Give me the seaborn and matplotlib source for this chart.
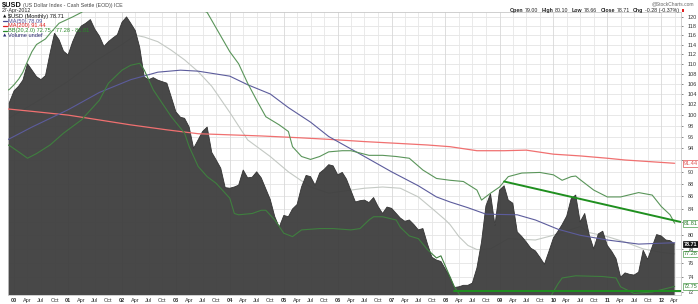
import matplotlib
matplotlib.use('Agg')
import matplotlib.pyplot as plt
import matplotlib.transforms as mtrans
import matplotlib.patches as mpatches
import matplotlib.lines as mlines
from matplotlib.ticker import FixedLocator, FixedFormatter, NullLocator
import seaborn as sns
import pandas as pd
import numpy as np

sns.set_theme(style='white')
plt.rcParams['font.family'] = ['Liberation Sans', 'DejaVu Sans']

# ---------------- data ----------------
price_start = '1999-11-01'
price = [
    101.4, 102.4,                                                                  # 1999 Nov-Dec
    104.6, 105.5, 106.7, 110.0, 108.7, 107.4, 106.8, 107.6, 112.2, 116.4, 115.0, 112.6,  # 2000
    111.8, 114.6, 116.6, 118.0, 118.6, 119.4, 117.3, 115.8, 113.6, 114.6, 115.4, 116.1,  # 2001
    118.8, 120.0, 118.6, 117.0, 113.4, 107.3, 106.8, 107.2, 106.7, 106.4, 106.1, 103.4,  # 2002
    100.6, 99.6, 99.4, 97.8, 94.0, 95.5, 97.0, 97.8, 93.3, 92.0, 90.6, 87.4,            # 2003
    87.3, 87.5, 87.8, 90.3, 89.0, 89.1, 90.0, 89.0, 87.2, 85.5, 82.8, 81.2,             # 2004
    83.0, 82.8, 84.0, 84.7, 87.5, 89.4, 89.2, 87.8, 89.8, 90.4, 91.2, 91.0,             # 2005
    89.5, 89.9, 88.8, 86.9, 85.1, 85.3, 85.4, 85.0, 85.8, 84.4, 83.3, 84.3,             # 2006
    84.1, 83.3, 82.6, 82.1, 82.3, 81.6, 80.8, 81.0, 78.7, 76.8, 76.4, 76.2,             # 2007
    75.1, 74.0, 72.6, 72.7, 72.9, 72.9, 73.2, 75.3, 79.0, 84.5, 86.4, 81.5,             # 2008
    87.0, 87.7, 85.4, 84.9, 80.5, 79.8, 79.0, 78.1, 77.7, 76.8, 75.8, 77.6,             # 2009
    79.6, 80.6, 81.6, 82.9, 85.6, 86.2, 82.0, 83.3, 80.0, 78.0, 80.2, 80.6,             # 2010
    78.5, 77.6, 76.6, 74.0, 74.6, 74.4, 74.3, 74.7, 77.8, 76.5, 78.3, 80.1,             # 2011
    79.9, 79.3, 79.2, 78.71,                                                       # 2012
]

ma50_months = ['1999-11', '1999-12', '2000-05', '2001-01', '2001-08', '2002-03', '2002-09',
               '2003-02', '2003-06', '2004-01', '2004-05', '2004-10', '2005-02', '2005-07',
               '2005-11', '2006-07', '2007-01', '2007-07', '2007-11', '2008-02', '2008-06',
               '2008-10', '2009-05', '2009-09', '2010-02', '2010-07', '2011-01', '2011-08',
               '2012-04']
ma50_vals = [95.3, 95.7, 97.8, 101.0, 104.3, 106.8, 108.3, 108.7, 108.5, 107.5, 105.8, 104.0,
             101.4, 98.7, 96.1, 92.6, 90.0, 87.7, 85.9, 85.1, 84.2, 83.2, 83.1, 82.3, 80.9,
             80.0, 79.3, 78.7, 78.9]

ma200_months = ['1999-11', '2000-05', '2001-01', '2001-08', '2002-03', '2002-11', '2003-06',
                '2004-01', '2004-08', '2005-04', '2005-11', '2006-07', '2007-02', '2007-09',
                '2008-02', '2008-08', '2009-02', '2009-07', '2010-01', '2010-07', '2011-01',
                '2011-05', '2012-04']
ma200_vals = [101.2, 100.7, 100.0, 99.1, 98.2, 97.3, 96.6, 96.4, 96.2, 95.9, 95.6, 95.2, 94.9,
              94.6, 94.3, 93.6, 93.6, 93.7, 93.0, 92.7, 92.3, 92.0, 91.44]

bbu_months = ['1999-11', '1999-12', '2000-01', '2000-02', '2000-03', '2000-04', '2000-05',
              '2000-06', '2000-08', '2000-09', '2000-11', '2001-02', '2001-04', '2001-06',
              '2002-01', '2002-08', '2003-03', '2003-08', '2004-01', '2004-03', '2004-05',
              '2004-07', '2004-09', '2004-12', '2005-02', '2005-03', '2005-05', '2005-07',
              '2005-09', '2005-11', '2006-02', '2006-04', '2006-06', '2006-08', '2006-11',
              '2007-02', '2007-05', '2007-08', '2007-11', '2008-02', '2008-05', '2008-08',
              '2008-09', '2008-11', '2009-01', '2009-03', '2009-06', '2009-10', '2010-01',
              '2010-03', '2010-05', '2010-06', '2010-07', '2010-10', '2011-01', '2011-04',
              '2011-08', '2011-11', '2012-01', '2012-03', '2012-04']
bbu_vals = [104.5, 104.9, 105.8, 106.9, 108.3, 110.5, 112.5, 114.0, 115.2, 116.4, 118.6, 120.0,
            121.0, 122.5, 124.0, 124.5, 123.5, 121.0, 112.5, 110.0, 106.1, 102.8, 99.7, 98.2,
            97.0, 94.3, 92.6, 92.1, 92.6, 93.4, 93.6, 93.6, 93.2, 92.8, 92.8, 92.6, 92.3, 90.3,
            88.9, 88.6, 88.4, 87.0, 85.4, 86.5, 87.5, 89.2, 89.8, 89.9, 89.5, 88.6, 89.2, 89.3,
            88.7, 87.0, 85.9, 85.9, 86.6, 86.2, 84.4, 83.1, 81.81]

bbm_months = ['1999-11', '2000-06', '2001-01', '2001-07', '2002-01', '2002-04', '2002-06',
              '2002-09', '2002-12', '2003-03', '2003-06', '2003-09', '2004-01', '2004-05',
              '2004-10', '2005-02', '2005-07', '2005-11', '2006-04', '2006-07', '2006-11',
              '2007-03', '2007-07', '2007-10', '2008-01', '2008-02', '2008-04', '2008-06',
              '2008-08', '2008-11', '2009-03', '2009-09', '2010-01', '2010-07', '2010-09',
              '2011-01', '2011-05', '2011-09', '2012-01', '2012-04']
bbm_vals = [99.0, 102.5, 106.5, 110.5, 114.0, 116.0, 115.6, 114.6, 112.8, 110.8, 108.4, 105.5,
            100.5, 95.5, 92.6, 90.0, 87.5, 86.5, 87.0, 87.3, 87.5, 87.3, 85.9, 84.1, 82.3, 81.6,
            79.8, 78.5, 77.9, 78.0, 79.5, 79.3, 80.0, 81.3, 80.4, 79.8, 79.0, 78.0, 77.5, 77.28]

bbl_months = ['1999-11', '1999-12', '2000-02', '2000-04', '2000-06', '2000-09', '2000-12',
              '2001-04', '2001-08', '2001-10', '2002-01', '2002-03', '2002-05', '2002-06',
              '2002-08', '2002-10', '2002-12', '2003-03', '2003-04', '2003-06', '2003-08',
              '2003-10', '2004-01', '2004-02', '2004-03', '2004-06', '2004-08', '2004-09',
              '2004-11', '2005-01', '2005-03', '2005-05', '2005-09', '2005-12', '2006-04',
              '2006-06', '2006-08', '2006-09', '2006-11', '2007-02', '2007-03', '2007-05',
              '2007-07', '2007-09', '2007-11', '2007-12', '2008-01', '2008-03', '2008-06',
              '2008-10', '2009-03', '2009-08', '2009-12', '2010-02', '2010-03', '2010-06',
              '2010-12', '2011-03', '2011-04', '2011-07', '2011-11', '2012-04']
bbl_vals = [94.8, 94.5, 93.4, 92.3, 93.1, 94.6, 96.7, 99.1, 102.8, 106.1, 108.7, 109.7, 110.1,
            108.7, 104.8, 102.2, 99.7, 96.7, 94.3, 90.9, 89.2, 88.1, 85.7, 83.3, 83.1, 83.3,
            83.8, 83.8, 82.3, 80.3, 79.8, 80.8, 81.0, 81.0, 80.8, 81.0, 82.3, 82.8, 82.8, 82.3,
            81.2, 79.9, 79.5, 77.9, 76.7, 77.0, 75.5, 72.7, 70.0, 67.0, 66.0, 68.0, 71.0, 73.1,
            73.9, 74.2, 74.1, 73.9, 72.7, 71.8, 72.0, 72.75]

resist_dates = ['2009-02-01', '2012-05-12']
resist_vals = [88.4, 82.0]
support_dates = ['2008-03-01', '2012-05-12']
support_vals = [72.2, 72.2]

yticks = list(range(72, 121, 2))
legend_rows = [('$USD (Monthly) 78.71', '#111111', 'tri'),
               ('MA(50) 78.09', '#4b4b95', 'line'),
               ('MA(200) 91.44', '#e02020', 'line'),
               ('BB(20,2.0) 72.75 - 77.28 - 81.81', '#2a8a2a', 'line'),
               ('Volume undef', '#2a2a70', 'tri')]
value_tags = [(91.44, '91.44', '#e05050', 'white', '#e05050'),
              (81.81, '81.81', '#4a9a4a', 'white', '#2a7a2a'),
              (78.71, '78.71', '#111111', '#111111', 'white'),
              (77.28, '77.28', '#4a9a4a', 'white', '#2a7a2a'),
              (72.75, '72.75', '#4a9a4a', 'white', '#2a7a2a')]

# ---------------- figure ----------------
W, H = 698, 304
fig = plt.figure(figsize=(W / 100, H / 100), dpi=100)
fig.patch.set_facecolor('white')
ax = fig.add_axes([8 / W, 9 / H, 673 / W, 283 / H])
ax.set_facecolor('white')

dates = pd.date_range(price_start, periods=len(price), freq='MS')
df = pd.DataFrame({'date': dates, 'price': price})

ax.set_yscale('log')
ax.set_ylim(71.6, 121.1)
ax.set_xlim(pd.Timestamp('1999-11-21'), pd.Timestamp('2012-05-14'))

# grid
for v in yticks:
    ax.axhline(v, color='#e4e4e4', lw=0.6, zorder=0)
qdates = pd.date_range('2000-01-01', '2012-04-01', freq='QS')
for q in qdates:
    ax.axvline(q, color='#d8d8d8' if q.month == 1 else '#e6e6e6', lw=0.6, zorder=0)

def ser(months, vals):
    return pd.DataFrame({'d': pd.to_datetime(months), 'v': vals})

# middle Bollinger line sits behind the price area
sns.lineplot(data=ser(bbm_months, bbm_vals), x='d', y='v', ax=ax, color='#c4c9c4', lw=0.8,
             zorder=0.5, sort=False)

ax.fill_between(df['date'], df['price'], 50, color='#3e3e3e', alpha=0.95, lw=0, zorder=1)
sns.lineplot(x=df['date'], y=df['price'], ax=ax, color='#333333', lw=0.6, zorder=2)

for months, vals, col, lw in [(ma200_months, ma200_vals, '#f07070', 0.9),
                              (ma50_months, ma50_vals, '#5c5c9c', 0.8),
                              (bbu_months, bbu_vals, '#5a955a', 0.8),
                              (bbl_months, bbl_vals, '#3f7f3f', 0.8)]:
    sns.lineplot(data=ser(months, vals), x='d', y='v', ax=ax, color=col, lw=lw, zorder=3,
                 sort=False)

for dts, vals in [(resist_dates, resist_vals), (support_dates, support_vals)]:
    s = pd.DataFrame({'d': pd.to_datetime(dts), 'v': vals})
    sns.lineplot(data=s, x='d', y='v', ax=ax, color='#1f8f1f', lw=1.4, zorder=4, sort=False)

ax.set_xlabel('')
ax.set_ylabel('')

# axes styling
for sp in ax.spines.values():
    sp.set_color('#c8c8c8')
    sp.set_linewidth(0.6)

# hide tick labels that the value tags cover
def ypix(v):
    return 115 - 1241 * np.log10(v / 100.0)
ylabels = []
for v in yticks:
    covered = any(abs(ypix(v) - ypix(t[0])) < 4.6 for t in value_tags)
    ylabels.append('' if covered else str(v))

ax.yaxis.tick_right()
ax.yaxis.set_major_locator(FixedLocator(yticks))
ax.yaxis.set_major_formatter(FixedFormatter(ylabels))
ax.yaxis.set_minor_locator(NullLocator())
ax.tick_params(axis='y', which='major', labelsize=4, colors='#333333', length=1.5,
               width=0.4, pad=3)

ax.xaxis.set_major_locator(FixedLocator(matplotlib.dates.date2num(qdates)))
qlabels = [d.strftime('%y') if d.month == 1 else d.strftime('%b') for d in qdates]
ax.xaxis.set_major_formatter(FixedFormatter(qlabels))
ax.xaxis.set_minor_locator(NullLocator())
ax.tick_params(axis='x', labelsize=4, colors='#333333', length=0, pad=2)
for lab, d in zip(ax.get_xticklabels(), qdates):
    if d.month == 1:
        lab.set_fontweight('bold')

# value tags on right axis
bt = mtrans.blended_transform_factory(ax.transAxes, ax.transData)
for val, txt, ec, fc, tc in value_tags:
    ax.text(1.004, val, txt, transform=bt, ha='left', va='center', fontsize=4,
            color=tc, fontweight='bold' if fc != 'white' else 'normal', zorder=10,
            clip_on=False, bbox=dict(boxstyle='square,pad=0.15', fc=fc, ec=ec, lw=0.5))

# header
fig.text(2 / W, 1 - 5 / H, '$USD', fontsize=5.3, fontweight='bold', color='#111111',
         ha='left', va='center')
fig.text(23 / W, 1 - 5 / H, '(US Dollar Index - Cash Settle (EOD)) ICE', fontsize=3.8,
         color='#444444', ha='left', va='center')
fig.text(2 / W, 1 - 10.5 / H, '27-Apr-2012', fontsize=3.8, color='#222222',
         ha='left', va='center')
fig.text(694 / W, 1 - 4 / H, '@StockCharts.com', fontsize=3.5, color='#666666',
         ha='right', va='center')

renderer = fig.canvas.get_renderer()
pieces = [('Open', 'bold'), ('79.00', 'normal'), ('High', 'bold'), ('80.10', 'normal'),
          ('Low', 'bold'), ('78.66', 'normal'), ('Close', 'bold'), ('78.71', 'normal'),
          ('Chg', 'bold'), ('-0.28 (-0.37%)', 'normal')]
xr = 679.0
for i in range(len(pieces) - 1, -1, -1):
    s, w = pieces[i]
    t = fig.text(xr / W, 1 - 10.5 / H, s, fontsize=3.8, fontweight=w,
                 color='#222222', ha='right', va='center')
    bb = t.get_window_extent(renderer=renderer)
    xr -= bb.width
    xr -= 1.6 if w == 'normal' else 3.2
fig.patches.append(mpatches.Rectangle((681.5 / W, 1 - 12 / H), 2.5 / W, 2.5 / H,
                                      transform=fig.transFigure, fc='#e02020', ec='none'))

# legend block
for i, (txt, col, kind) in enumerate(legend_rows):
    yp = 16.5 + i * 4.7
    fy = 1 - yp / H
    if kind == 'tri':
        fig.text(5 / W, fy, '\u25B2', fontsize=3.2, color=col, ha='center', va='center',
                 family='DejaVu Sans')
    else:
        fig.add_artist(mlines.Line2D([3 / W, 7.5 / W], [fy, fy], color=col, lw=0.9))
    fig.text(8.5 / W, fy, txt, fontsize=4.1, color=col, ha='left', va='center')

fig.savefig('out.png', dpi=100, facecolor='white')
